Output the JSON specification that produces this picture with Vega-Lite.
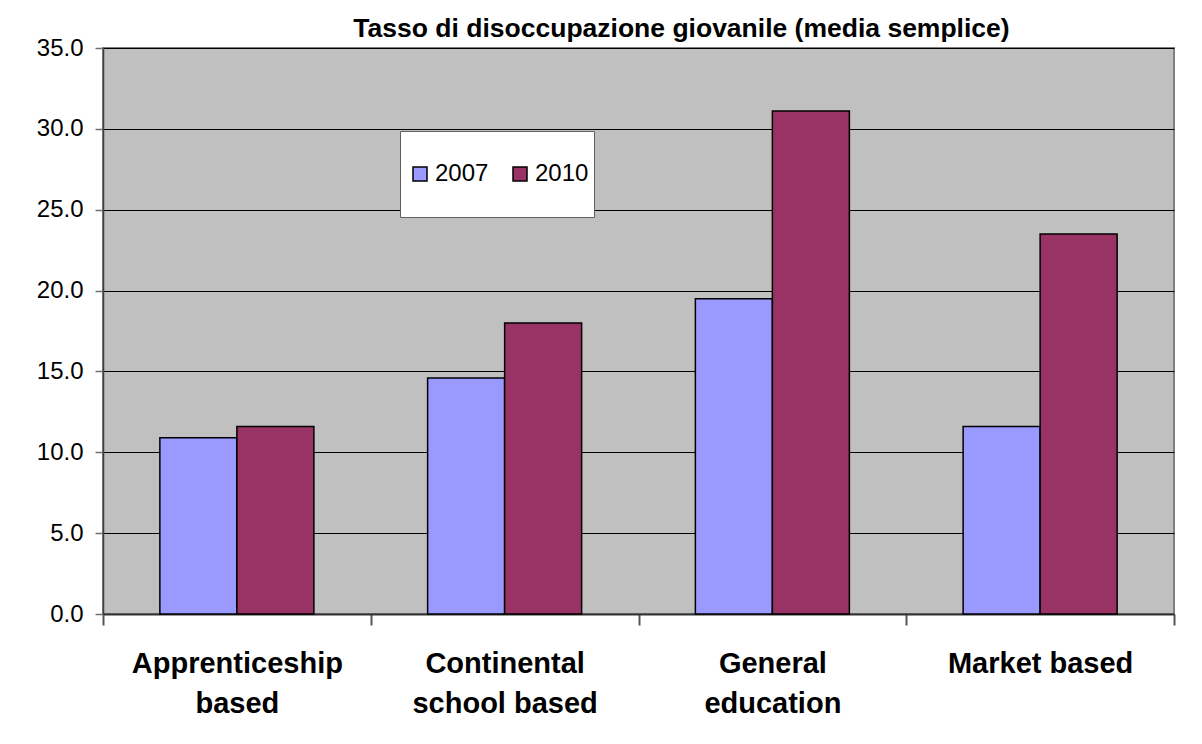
{
  "$schema": "https://vega.github.io/schema/vega-lite/v6.json",
  "width": 1071,
  "height": 566,
  "autosize": {"type": "none"},
  "padding": {"left": 103, "top": 48, "right": 28, "bottom": 130},
  "background": "white",
  "title": {
    "text": "Tasso di disoccupazione giovanile (media semplice)",
    "font": "Liberation Sans",
    "fontSize": 26.5,
    "fontWeight": "bold",
    "color": "black",
    "anchor": "middle",
    "frame": "group",
    "dx": 43,
    "dy": 38,
    "baseline": "alphabetic",
    "offset": 11
  },
  "data": {
    "values": [
      {"group": "Apprenticeship based", "year": "2007", "value": 10.9},
      {"group": "Apprenticeship based", "year": "2010", "value": 11.6},
      {"group": "Continental school based", "year": "2007", "value": 14.6},
      {"group": "Continental school based", "year": "2010", "value": 18.0},
      {"group": "General education", "year": "2007", "value": 19.5},
      {"group": "General education", "year": "2010", "value": 31.1},
      {"group": "Market based", "year": "2007", "value": 11.6},
      {"group": "Market based", "year": "2010", "value": 23.5}
    ]
  },
  "mark": {"type": "bar", "stroke": "black", "strokeWidth": 1.5},
  "encoding": {
    "x": {
      "field": "group",
      "type": "nominal",
      "sort": ["Apprenticeship based", "Continental school based", "General education", "Market based"],
      "scale": {"paddingInner": 0, "paddingOuter": 0},
      "axis": {
        "title": null,
        "labelAngle": 0,
        "tickBand": "extent",
        "tickSize": 11,
        "tickColor": "#555555",
        "tickWidth": 2,
        "domainColor": "#333333",
        "domainWidth": 2,
        "grid": false,
        "labelFont": "Liberation Sans",
        "labelFontSize": 29,
        "labelFontWeight": "bold",
        "labelColor": "black",
        "labelBaseline": "alphabetic",
        "labelPadding": 47,
        "labelLineHeight": 40,
        "labelLimit": 500,
        "labelOverlap": false,
        "labelExpr": "datum.value == 'Apprenticeship based' ? ['Apprenticeship', 'based'] : datum.value == 'Continental school based' ? ['Continental', 'school based'] : datum.value == 'General education' ? ['General', 'education'] : datum.value"
      }
    },
    "xOffset": {
      "field": "year",
      "type": "nominal",
      "scale": {"paddingInner": 0, "paddingOuter": 0.7386}
    },
    "y": {
      "field": "value",
      "type": "quantitative",
      "scale": {"domain": [0, 35], "nice": false},
      "axis": {
        "title": null,
        "values": [0, 5, 10, 15, 20, 25, 30, 35],
        "format": ".1f",
        "labelFont": "Liberation Sans",
        "labelFontSize": 24,
        "labelColor": "black",
        "tickSize": 8,
        "tickColor": "#707070",
        "tickWidth": 1.5,
        "labelPadding": 12,
        "domainColor": "#404040",
        "domainWidth": 1.5,
        "grid": true,
        "gridColor": "#000000",
        "gridWidth": 1
      }
    },
    "color": {
      "field": "year",
      "type": "nominal",
      "scale": {"domain": ["2007", "2010"], "range": ["#9999FF", "#993366"]},
      "legend": {
        "orient": "none",
        "legendX": 297,
        "legendY": 83,
        "direction": "horizontal",
        "title": null,
        "fillColor": "white",
        "strokeColor": "#606060",
        "padding": 5,
        "symbolType": "M-1,2.714H1V4.714H-1Z",
        "symbolSize": 196,
        "symbolStrokeColor": "black",
        "symbolStrokeWidth": 1.5,
        "symbolOffset": 3,
        "labelOffset": 3,
        "labelFont": "Liberation Sans",
        "labelFontSize": 24,
        "labelColor": "black",
        "columnPadding": 16,
        "labelExpr": "['', datum.label, '']"
      }
    }
  },
  "config": {
    "view": {"fill": "#C0C0C0", "stroke": "#808080", "strokeWidth": 2}
  }
}
